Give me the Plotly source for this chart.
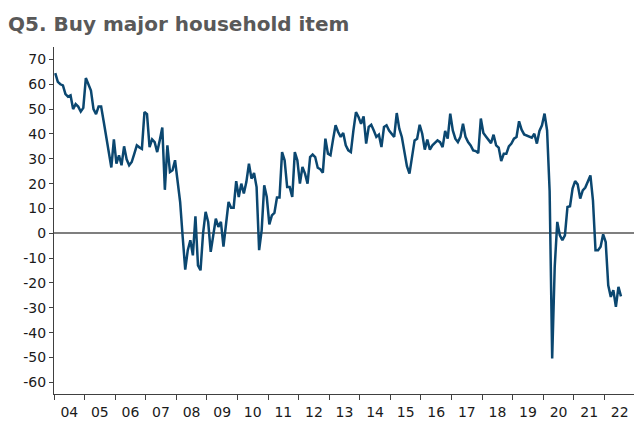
import plotly.graph_objects as go

title = "Q5. Buy major household item"

y2004 = [64.5, 61, 60, 59.5, 56, 55, 55.5, 50, 52, 51, 49, 50.5]
y2005 = [62.5, 60.3, 57.5, 50, 48, 51, 51, 45, 38.3, 32, 26.5, 37.8]
y2006 = [28, 31.4, 27.4, 35, 29.8, 27.4, 28.7, 32, 35.4, 34.6, 34, 48.8]
y2007 = [48, 34.7, 37.8, 36.7, 32.7, 37.4, 42.6, 17.5, 35.4, 24.7, 25.4, 29.4]
y2008 = [20, 12.6, -1.5, -14.6, -6.8, -2.8, -8.9, 6.8, -12.9, -14.9, 0, 8.6]
y2009 = [4.6, -7.5, -0.8, 5.9, 2.6, 4.6, -5.4, 2.6, 12.6, 10.3, 10.3, 21]
y2010 = [14.6, 20, 16, 20.7, 28, 22, 24.3, 18.6, -6.8, 1.3, 19.3, 14.6]
y2011 = [3.6, 7.2, 8.2, 14.4, 14.4, 32.7, 29.4, 18.6, 18.6, 14.6, 32.7, 29.4]
y2012 = [20, 26.7, 24, 20, 30.7, 31.7, 30.7, 26.4, 25.8, 24.4, 38.1, 32]
y2013 = [31.4, 37.7, 43.5, 40.8, 38.8, 40.4, 35.4, 33.4, 32.7, 41.4, 48.8, 46.8]
y2014 = [44.1, 47.1, 36.1, 42.8, 43.7, 41.4, 38.8, 39.7, 34.7, 42.8, 43.5, 41.4]
y2015 = [40.1, 38.8, 48.4, 42.1, 38.8, 33.4, 27, 24, 30.7, 37.4, 38.1, 43.7]
y2016 = [40.1, 33.7, 37.7, 33.7, 35.4, 36.3, 37.4, 36.7, 34.7, 41.2, 38.1, 48.2]
y2017 = [41.4, 38.1, 36.7, 38.8, 44.1, 38.8, 36.7, 35.4, 33.4, 33.1, 32.3, 46.2]
y2018 = [40.4, 39, 37.4, 36.3, 39.7, 35.4, 34.5, 29.1, 32, 32, 35, 36.1]
y2019 = [38.1, 38.8, 45.1, 41.7, 39.8, 39.4, 39, 38.5, 40.1, 36.1, 41.2, 43.5]
y2020 = [48.2, 41.4, 17, -50.4, -13.4, 4.6, -0.8, -2.8, -0.8, 10.6, 10.9, 18]
y2021 = [21, 19.7, 14, 17.3, 18.4, 21.3, 23.3, 13.3, -6.8, -6.8, -5.4, -0.4]
y2022 = [-3.5, -20.9, -25.6, -22.9, -29.6, -21.6, -25.4]

year_labels = ["04", "05", "06", "07", "08", "09", "10", "11", "12", "13",
               "14", "15", "16", "17", "18", "19", "20", "21", "22"]
y_ticks = [70, 60, 50, 40, 30, 20, 10, 0, -10, -20, -30, -40, -50, -60]

values = (y2004 + y2005 + y2006 + y2007 + y2008 + y2009 + y2010 + y2011 + y2012
          + y2013 + y2014 + y2015 + y2016 + y2017 + y2018 + y2019 + y2020 + y2021 + y2022)
month_idx = list(range(len(values)))

fig = go.Figure()
fig.add_trace(go.Scatter(
    x=month_idx, y=values, mode="lines",
    line=dict(color="#0b4770", width=2.5),
    hoverinfo="skip", showlegend=False,
))

fig.update_layout(
    width=634, height=427,
    margin=dict(l=46, r=7, t=39, b=41),
    paper_bgcolor="white", plot_bgcolor="white",
    font=dict(family="DejaVu Sans", size=14, color="#1a1a1a"),
    title=dict(text="<b>" + title + "</b>", x=0.0, xanchor="left",
               y=0.978, yanchor="top", yref="container",
               font=dict(family="DejaVu Sans", size=20, color="#595959")),
)

fig.update_xaxes(
    range=[-0.5, 12 * len(year_labels) - 0.5],
    tickmode="array",
    tickvals=[12 * k + 5.5 for k in range(len(year_labels))],
    ticktext=year_labels,
    ticks="", showgrid=False, zeroline=False,
    showline=True, linecolor="#404040", linewidth=1,
    ticklabelstandoff=5,
    minor=dict(tickmode="linear", tick0=-0.5, dtick=12, ticks="outside",
               ticklen=5, tickcolor="#404040", tickwidth=1, showgrid=False),
)

fig.update_yaxes(
    range=[-64.7, 75],
    tickmode="array", tickvals=y_ticks, ticktext=[str(v) for v in y_ticks],
    ticks="outside", ticklen=4, tickcolor="#404040", tickwidth=1,
    showgrid=False,
    zeroline=True, zerolinecolor="#7f7f7f", zerolinewidth=1.5,
    showline=True, linecolor="#404040", linewidth=1,
)

fig.write_html("out.html")
